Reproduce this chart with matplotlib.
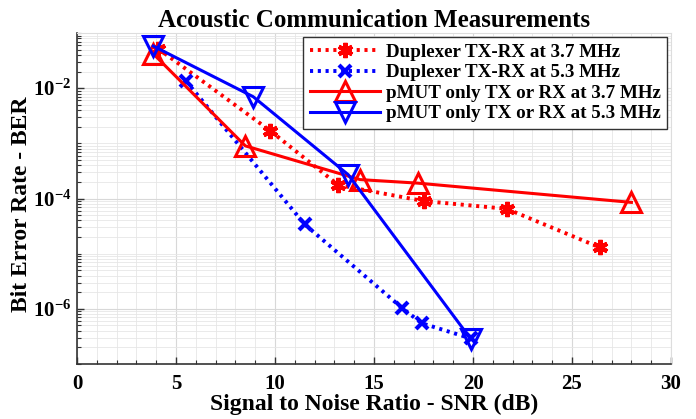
import matplotlib
matplotlib.use("Agg")
import matplotlib.pyplot as plt
from matplotlib.ticker import LogLocator, FixedLocator, MultipleLocator, NullFormatter

plt.rcParams['font.family'] = ['Liberation Serif', 'DejaVu Serif']
plt.rcParams['font.weight'] = 'bold'
plt.rcParams['mathtext.fontset'] = 'custom'
plt.rcParams['mathtext.rm'] = 'Liberation Serif:bold'
plt.rcParams['mathtext.default'] = 'rm'

# duplexer TX-RX at 3.7 MHz
dup37_snr = [4.1, 9.75, 13.2, 17.5, 21.7, 26.4]
dup37_ber = [5.2e-2, 1.7e-3, 1.75e-4, 9.0e-5, 6.5e-5, 1.3e-5]
# duplexer TX-RX at 5.3 MHz
dup53_snr = [5.5, 11.5, 16.4, 17.4, 19.9]
dup53_ber = [1.35e-2, 3.4e-5, 1.05e-6, 5.5e-7, 2.9e-7]
# pMUT only at 3.7 MHz
pm37_snr = [3.85, 8.5, 14.3, 17.2, 28.0]
pm37_ber = [4.2e-2, 9.0e-4, 2.2e-4, 1.9e-4, 8.5e-5]
# pMUT only at 5.3 MHz
pm53_snr = [3.85, 8.9, 13.7, 19.9]
pm53_ber = [5.8e-2, 7.0e-3, 2.7e-4, 2.8e-7]

labels = ['Duplexer TX-RX at 3.7 MHz', 'Duplexer TX-RX at 5.3 MHz',
          'pMUT only TX or RX at 3.7 MHz', 'pMUT only TX or RX at 5.3 MHz']
ytick_vals = [1e-6, 1e-4, 1e-2]
ytick_text = [r'$10^{-6}$', r'$10^{-4}$', r'$10^{-2}$']

red = '#ff0000'
blue = '#0000ff'
dots = (0, (0.8, 1.2))
ast = (6, 2, 0)

fig = plt.figure(figsize=(6.96, 4.19), dpi=100)
ax = fig.add_axes([77/696, 1 - 364/419, (671-77)/696, (364-33)/419])

ax.plot(dup37_snr, dup37_ber, color=red, ls=dots, lw=2.8, marker=ast,
        ms=11, mew=3, label=labels[0])
ax.plot(dup53_snr, dup53_ber, color=blue, ls=dots, lw=2.8, marker='x',
        ms=9, mew=3, label=labels[1])
ax.plot(pm37_snr, pm37_ber, color=red, ls='-', lw=2.2, marker='^',
        ms=15, mew=2.2, mfc='none', label=labels[2])
ax.plot(pm53_snr, pm53_ber, color=blue, ls='-', lw=2.2, marker='v',
        ms=15, mew=2.2, mfc='none', label=labels[3])

ax.set_yscale('log')
ax.set_xlim(0, 30)
ax.set_ylim(1e-7, 1e-1)

ax.xaxis.set_major_locator(MultipleLocator(5))
ax.xaxis.set_minor_locator(MultipleLocator(1))
ax.yaxis.set_major_locator(FixedLocator(ytick_vals))
ax.yaxis.set_minor_locator(LogLocator(base=10, subs=range(1, 10), numticks=20))
ax.yaxis.set_minor_formatter(NullFormatter())
ax.set_yticklabels(ytick_text)

ax.tick_params(which='both', direction='in', labelsize=15, color='#333333')
ax.tick_params(which='major', length=5, width=1)
ax.tick_params(which='minor', length=3, width=0.8)
ax.tick_params(axis='x', pad=7)
ax.tick_params(axis='y', pad=4)
ax.grid(True, which='major', color='#d8d8d8', lw=0.8)
ax.grid(True, which='minor', color='#e6e6e6', lw=0.6)
ax.set_axisbelow(True)

for s in ['left', 'bottom']:
    ax.spines[s].set_color('#333333')
    ax.spines[s].set_linewidth(1.2)
for s in ['top', 'right']:
    ax.spines[s].set_color('#dddddd')
    ax.spines[s].set_linewidth(0.8)

ax.set_title('Acoustic Communication Measurements', fontsize=18, fontweight='bold', pad=4)
ax.set_xlabel('Signal to Noise Ratio - SNR (dB)', fontsize=17, fontweight='bold', labelpad=0)
ax.set_ylabel('Bit Error Rate - BER', fontsize=17, fontweight='bold')
ax.yaxis.set_label_coords(-0.075, 0.483)

leg = ax.legend(loc='upper right', fontsize=13.7, handlelength=3.7, borderpad=0.35,
                labelspacing=0.17, handletextpad=0.3, fancybox=False,
                borderaxespad=0.2, framealpha=1, bbox_to_anchor=(1.0, 1.0))
leg.get_frame().set_edgecolor('#333333')
leg.get_frame().set_linewidth(1.0)

fig.savefig('out.png', dpi=100)
